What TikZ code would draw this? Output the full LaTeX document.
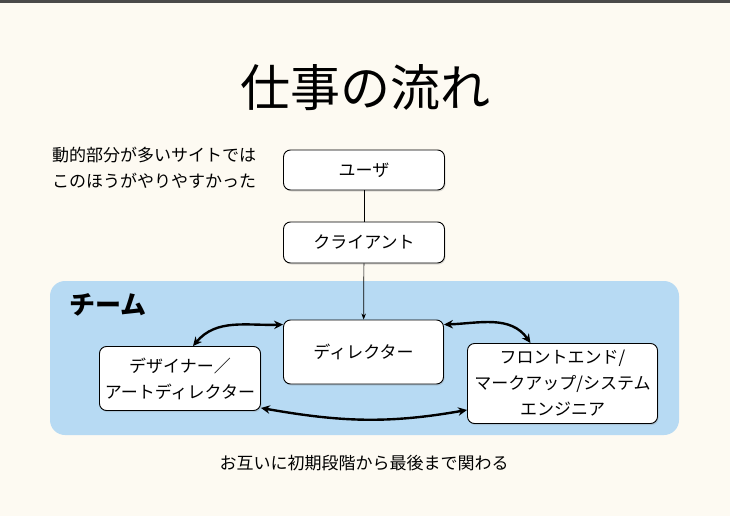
\documentclass[tikz,border=0pt]{standalone}
\usepackage{fontspec}
\setmainfont{Noto Sans CJK JP}
\usetikzlibrary{arrows.meta, positioning, shadows, calc}
\definecolor{paper}{HTML}{FDFAF2}
\definecolor{teamblue}{HTML}{B7DAF3}
\definecolor{topbar}{HTML}{4A4A4A}

\begin{document}
\begin{tikzpicture}[x=1pt, y=-1pt,
        box/.style={draw, rounded corners=7pt, fill=white, line width=0.9pt, align=center,
            font=\fontsize{17}{26}\selectfont, inner sep=2pt,
            drop shadow={shadow xshift=1pt, shadow yshift=-1.5pt, opacity=0.25}},
        team/.style={fill=teamblue, rounded corners=15pt, inner sep=0pt},
        note/.style={align=center, font=\fontsize{17}{26}\selectfont},
        link/.style={line width=0.7pt},
        both/.style={line width=2.4pt, {Stealth[length=9pt, width=8.5pt]}-{Stealth[length=9pt, width=8.5pt]}}
    ]
        \useasboundingbox (0,0) rectangle (730,516);
        \fill[paper] (0,0) rectangle (730,516);
        \fill[topbar] (0,0) rectangle (730,3);

        % title and notes
        \node[font=\fontsize{50}{56}\selectfont] (title) at (365,88) {仕事の流れ};
        \node[note] (remark) at (154,168) {動的部分が多いサイトでは\\このほうがやりやすかった};
        \node[note] (summary) at (364,463) {お互いに初期段階から最後まで関わる};

        % team area
        \node[team, minimum width=629pt, minimum height=154pt] (team) at (364.5,358) {};
        \node[font=\bfseries\fontsize{26}{30}\selectfont] (teamlabel) at (108,305) {チーム};

        % outside
        \node[box, minimum width=161pt, minimum height=40pt] (user) at (364,170) {ユーザ};
        \node[box, minimum width=161pt, minimum height=41pt] (client) at (364,242.5) {クライアント};

        % inside the team
        \node[box, minimum width=160pt, minimum height=64pt] (director) at (363.5,352) {ディレクター};
        \node[box, minimum width=161pt, minimum height=64pt] (designer) at (180,378.5) {デザイナー／\\アートディレクター};
        \node[box, minimum width=190pt, minimum height=80pt] (frontend) at (562.5,383.5) {フロントエンド/\\マークアップ/システム\\エンジニア};

        \draw[link] (user) -- (client);
        \draw[link, -{Stealth[length=6pt, width=4.5pt]}] (client) -- (director);

        \draw[both] ($(designer.north)+(13,0)$) to[out=50, in=182] ($(director.north west)+(0,5)$);
        \draw[both] ($(director.north east)+(0,5)$) to[out=2, in=125] ($(frontend.north)+(-32,0)$);
        \draw[both] ($(designer.south east)+(0,-3)$) to[out=-10, in=-170] ($(frontend.south west)+(0,-14)$);
\end{tikzpicture}
\end{document}
